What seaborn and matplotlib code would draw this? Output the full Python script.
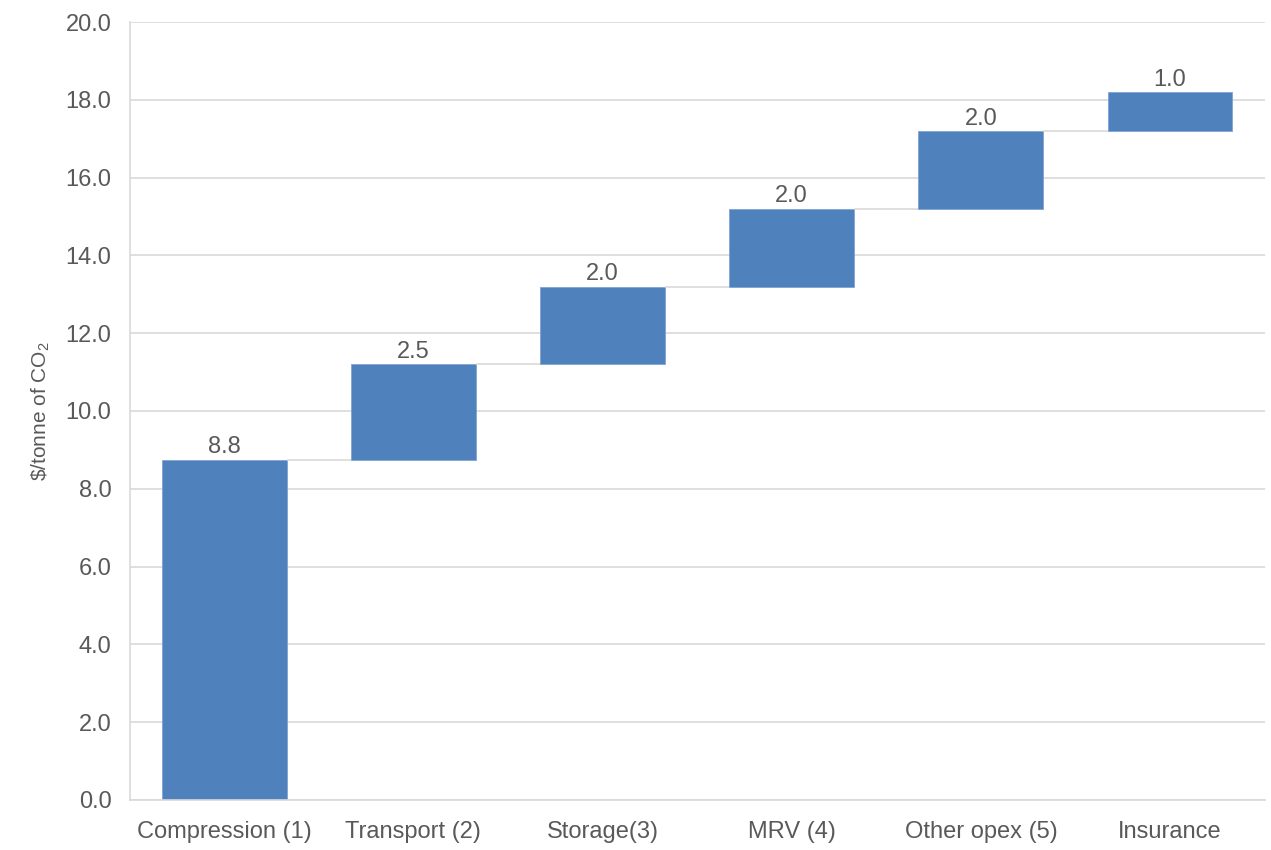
import numpy as np
import seaborn as sns
import matplotlib.pyplot as plt
from matplotlib.ticker import FormatStrFormatter

sns.set_style("white")
plt.rcParams["font.family"] = ["Liberation Sans", "DejaVu Sans"]
plt.rcParams["mathtext.fontset"] = "custom"
plt.rcParams["mathtext.rm"] = "Liberation Sans"
plt.rcParams["mathtext.it"] = "Liberation Sans"

# data
categories = ["Compression (1)", "Transport (2)", "Storage(3)", "MRV (4)", "Other opex (5)", "Insurance"]
costs = [8.75, 2.45, 2.0, 2.0, 2.0, 1.0]

cum = np.cumsum(costs)
bases = cum - np.array(costs)

text_col = "#595959"
bar_col = "#4F81BD"
w = 0.66

fig, ax = plt.subplots(figsize=(12.71, 8.5), dpi=100)
fig.subplots_adjust(left=0.102, right=0.995, top=0.974, bottom=0.059)

ax.yaxis.grid(True, color="#D9D9D9", linewidth=1.2)
ax.set_axisbelow(True)

sns.barplot(x=categories, y=costs, bottom=bases, color=bar_col, width=w,
            saturation=1, ax=ax, edgecolor="#7FA3D3", linewidth=0.6)

# connectors between bars
for i in range(len(costs) - 1):
    ax.hlines(cum[i], i + w / 2, i + 1 - w / 2, color="#D9D9D9", linewidth=1.2, zorder=1)

ax.bar_label(ax.containers[0], labels=[f"{v:.1f}" for v in costs],
             padding=1, fontsize=17, color=text_col)

ax.set_ylim(0, 20)
ax.set_yticks(np.arange(0, 20.1, 2))
ax.yaxis.set_major_formatter(FormatStrFormatter("%.1f"))
ax.set_xlim(-0.5, len(categories) - 0.5)

ax.tick_params(axis="y", labelsize=17, colors=text_col, length=0, pad=13)
ax.tick_params(axis="x", labelsize=17, colors=text_col, length=0, pad=15)
ax.set_ylabel(r"\$/tonne of CO$_2$", fontsize=15, color=text_col, labelpad=10)
ax.set_xlabel("")

for s in ["top", "right"]:
    ax.spines[s].set_visible(False)
for s in ["left", "bottom"]:
    ax.spines[s].set_color("#D9D9D9")
    ax.spines[s].set_linewidth(1.2)

fig.savefig("out.png", dpi=100)
